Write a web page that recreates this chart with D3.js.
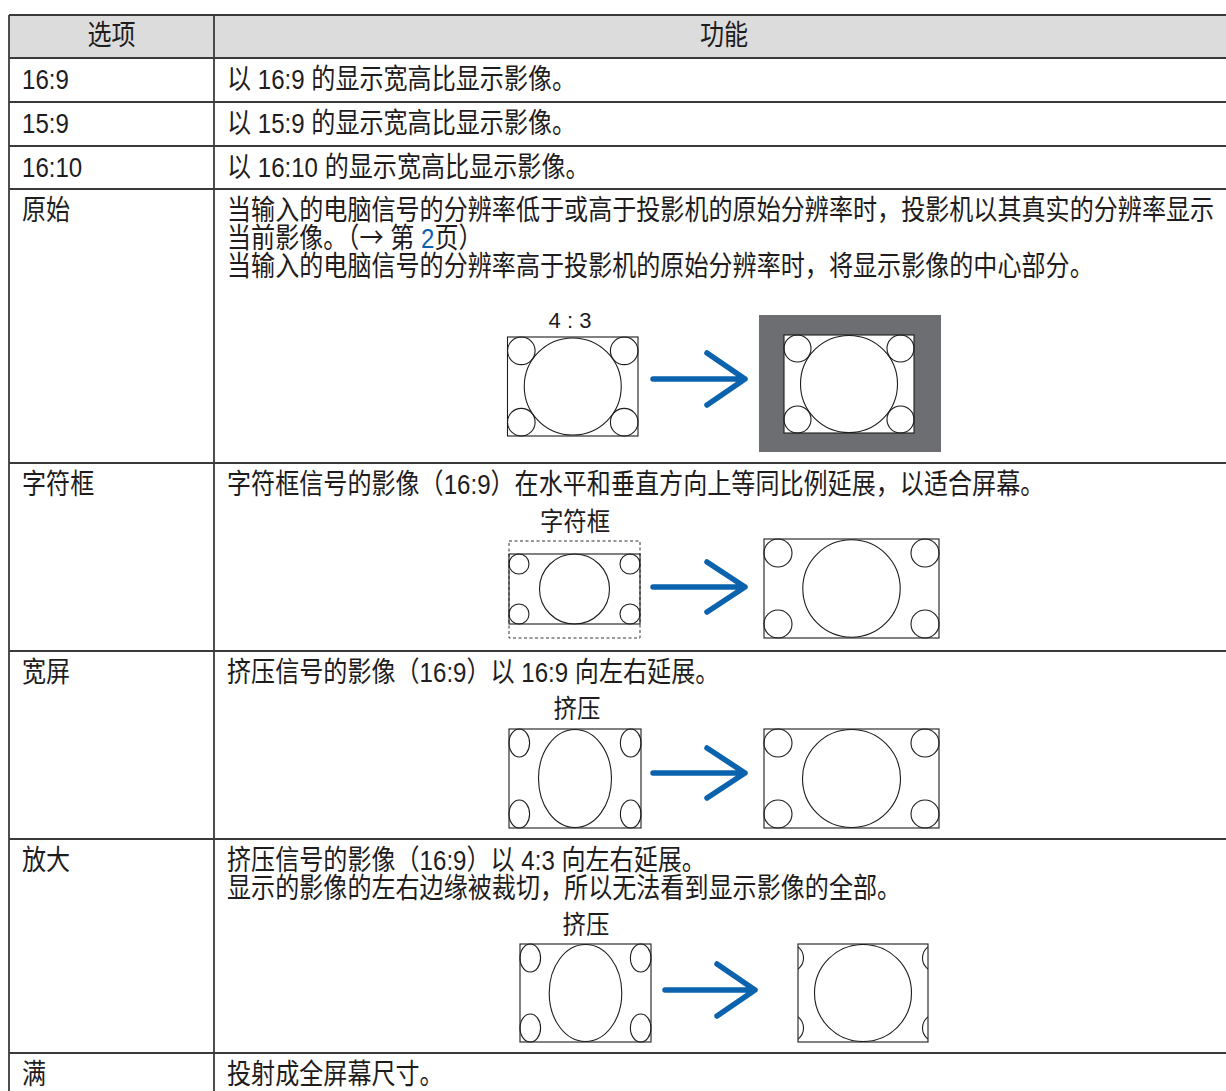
<!DOCTYPE html>
<html><head><meta charset="utf-8">
<script src="https://cdn.jsdelivr.net/npm/d3@7"></script>
<style>html,body{margin:0;padding:0;background:#fff;}svg{display:block;}</style>
</head><body>
<script>
// ---------- data ----------
const headers = ["选项", "功能"];
const options = ["16:9", "15:9", "16:10", "原始", "字符框", "宽屏", "放大", "满"];
const descriptions = [
  ["以 16:9 的显示宽高比显示影像。"],
  ["以 15:9 的显示宽高比显示影像。"],
  ["以 16:10 的显示宽高比显示影像。"],
  ["当输入的电脑信号的分辨率低于或高于投影机的原始分辨率时，投影机以其真实的分辨率显示",
   "当前影像。（{→} 第 [2]页）",
   "当输入的电脑信号的分辨率高于投影机的原始分辨率时，将显示影像的中心部分。"],
  ["字符框信号的影像（16:9）在水平和垂直方向上等同比例延展，以适合屏幕。"],
  ["挤压信号的影像（16:9）以 16:9 向左右延展。"],
  ["挤压信号的影像（16:9）以 4:3 向左右延展。",
   "显示的影像的左右边缘被裁切，所以无法看到显示影像的全部。"],
  ["投射成全屏幕尺寸。"]
];
const diagramLabels = ["4 : 3", "字符框", "挤压", "挤压"];

// ---------- layout ----------
const W = 1226, H = 1091;
const rowEdges = [15, 58, 102, 146, 189, 463, 651, 839, 1053, 1100];
const x = d3.scaleLinear().domain([0, 1]).range([0, 1]); // identity pixel scale
const y = d3.scaleLinear().domain([0, 1]).range([0, 1]);
const tableLeft = 9, colDiv = 214;
const FONT = "'Liberation Sans','Noto Sans CJK SC',sans-serif";
const CJK = "'Noto Sans CJK SC',sans-serif";
const INK = "#1e1c1d", BLUE = "#0b63ae";

const svg = d3.select("body").append("svg").attr("width", W).attr("height", H);

// header background
svg.append("rect").attr("x", x(tableLeft)).attr("y", y(rowEdges[0]))
  .attr("width", W - tableLeft).attr("height", rowEdges[1] - rowEdges[0]).attr("fill", "#dcdcdc");

// horizontal rules
svg.selectAll("line.h").data(rowEdges.slice(0, -1)).join("line").attr("class", "h")
  .attr("x1", tableLeft).attr("x2", W).attr("y1", d => y(d)).attr("y2", d => y(d))
  .attr("stroke", "#3a3a3a").attr("stroke-width", 1.8);
// vertical rules
svg.selectAll("line.v").data([tableLeft, colDiv]).join("line").attr("class", "v")
  .attr("x1", d => x(d)).attr("x2", d => x(d)).attr("y1", rowEdges[0]).attr("y2", H)
  .attr("stroke", "#3a3a3a").attr("stroke-width", 1.8);

function txt(g, str, tx, ty, opts = {}) {
  const size = opts.size || 28, sx = opts.sx || 0.86;
  const t = g.append("text")
    .attr("transform", `translate(${tx},${ty}) scale(${sx},1)`)
    .attr("font-family", FONT).attr("font-size", size).attr("fill", INK)
    .attr("text-anchor", opts.anchor || "start");
  const parts = str.split(/(\[[^\]]*\]|\{[^}]*\})/);
  parts.forEach(p => {
    if (!p) return;
    if (p.startsWith("[")) t.append("tspan").attr("fill", BLUE).text(p.slice(1, -1));
    else if (p.startsWith("{")) t.append("tspan").attr("font-family", CJK).text(p.slice(1, -1));
    else t.append("tspan").text(p);
  });
  return t;
}

// header text
txt(svg, headers[0], (tableLeft + colDiv) / 2, rowEdges[0] + 30, {anchor: "middle"});
txt(svg, headers[1], (colDiv + W) / 2 + 4, rowEdges[0] + 30, {anchor: "middle"});

// rows
options.forEach((opt, i) => {
  const top = rowEdges[i + 1];
  txt(svg, opt, 22, top + 30.5);
  descriptions[i].forEach((line, j) => {
    txt(svg, line, 227, top + 30.5 + j * 28);
  });
});

// ---------- diagrams ----------
const dg = svg.append("g").attr("fill", "none").attr("stroke", INK).attr("stroke-width", 1.1);

function frame(x0, y0, w, h, dashed) {
  const r = dg.append("rect").attr("x", x0).attr("y", y0).attr("width", w).attr("height", h)
    .attr("fill", "#fff");
  if (dashed) r.attr("stroke-dasharray", "3,2.5").attr("stroke-width", 0.9);
  return r;
}
function screen(x0, y0, w, h, bigRx, bigRy, cRx, cRy, g) {
  g = g || dg;
  g.append("ellipse").attr("cx", x0 + w / 2).attr("cy", y0 + h / 2).attr("rx", bigRx).attr("ry", bigRy);
  [[x0 + cRx, y0 + cRy], [x0 + w - cRx, y0 + cRy], [x0 + cRx, y0 + h - cRy], [x0 + w - cRx, y0 + h - cRy]]
    .forEach(c => g.append("ellipse").attr("cx", c[0]).attr("cy", c[1]).attr("rx", cRx).attr("ry", cRy));
}
function arrow(x1, x2, yc, half, headLen) {
  const p = d3.path();
  p.moveTo(x1, yc); p.lineTo(x2, yc);
  p.moveTo(x2 - headLen, yc - half); p.lineTo(x2, yc); p.lineTo(x2 - headLen, yc + half);
  svg.append("path").attr("d", p.toString()).attr("fill", "none").attr("stroke", BLUE)
    .attr("stroke-width", 5.5).attr("stroke-linecap", "round").attr("stroke-linejoin", "round");
}

// 原始
txt(svg, diagramLabels[0], 570, 328, {size: 22, sx: 1, anchor: "middle"});
frame(507.5, 337, 130.5, 99);
screen(507.5, 337, 130.5, 99, 48.5, 48.5, 13.8, 13.8);
arrow(653, 745, 379, 26, 38);
svg.append("rect").attr("x", 759).attr("y", 315).attr("width", 182).attr("height", 137).attr("fill", "#6d6e71");
const g2 = svg.append("g").attr("fill", "none").attr("stroke", INK).attr("stroke-width", 1.1);
g2.append("rect").attr("x", 784).attr("y", 335).attr("width", 130).attr("height", 98).attr("fill", "#fff");
screen(784, 335, 130, 98, 48.5, 48.5, 13.5, 13.5, g2);

// 字符框
txt(svg, diagramLabels[1], 575, 531, {size: 26, sx: 0.9, anchor: "middle"});
frame(509, 541, 131, 97, true);
dg.append("rect").attr("x", 509).attr("y", 554).attr("width", 131).attr("height", 70);
screen(509, 554, 131, 70, 35, 35, 10, 10);
arrow(653, 745, 587, 25, 38);
frame(764, 539, 175, 99);
screen(764, 539, 175, 99, 48.7, 48.7, 14, 14);

// 宽屏
txt(svg, diagramLabels[2], 577, 718, {size: 26, sx: 0.9, anchor: "middle"});
frame(509, 729, 132, 99);
screen(509, 729, 132, 99, 36.5, 49, 10.3, 14);
arrow(653, 745, 773, 25, 38);
frame(764, 729, 175, 99);
screen(764, 729, 175, 99, 49, 49, 14, 14);

// 放大
txt(svg, diagramLabels[3], 586, 934, {size: 26, sx: 0.9, anchor: "middle"});
frame(520, 944, 131, 98);
screen(520, 944, 131, 98, 36.3, 48.5, 10.3, 14);
arrow(665, 755, 990, 26, 38);
svg.append("clipPath").attr("id", "cropZoom").append("rect")
  .attr("x", 798).attr("y", 944).attr("width", 130).attr("height", 98);
frame(798, 944, 130, 98);
const gz = dg.append("g").attr("clip-path", "url(#cropZoom)");
gz.append("ellipse").attr("cx", 863).attr("cy", 993).attr("rx", 48.5).attr("ry", 48.5);
[[789.5, 958], [936.5, 958], [789.5, 1028], [936.5, 1028]]
  .forEach(c => gz.append("circle").attr("cx", c[0]).attr("cy", c[1]).attr("r", 14));
</script>
</body></html>
